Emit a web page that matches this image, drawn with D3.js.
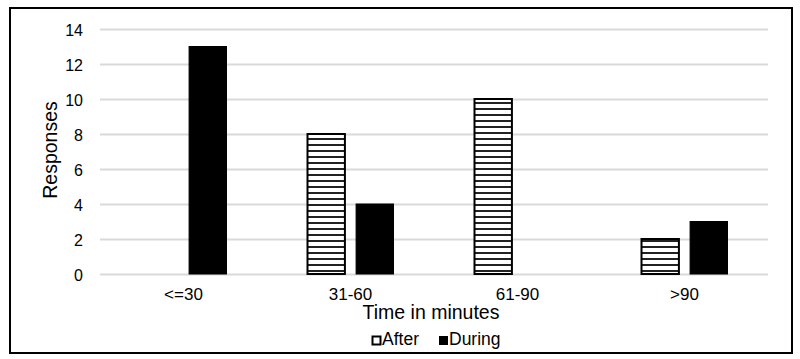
<!DOCTYPE html>
<html>
<head>
<meta charset="utf-8">
<script src="https://cdn.jsdelivr.net/npm/d3@7"></script>
<style>
  body { margin: 0; background: #fff; }
  svg { font-family: "Liberation Sans", Arial, sans-serif; }
</style>
</head>
<body>
<div id="chart"></div>
<script>
var categories = ["<=30", "31-60", "61-90", ">90"];
var seriesNames = ["After", "During"];
var afterValues = [0, 8, 10, 2];
var duringValues = [13, 4, 0, 3];
var yTicks = [0, 2, 4, 6, 8, 10, 12, 14];

var width = 800,
    height = 359;

var margin = { left: 100, right: 32, top: 29, bottom: 85 };

var svg = d3.select("#chart")
    .append("svg")
    .attr("width", width)
    .attr("height", height);

// stripe pattern for "After"
var defs = svg.append("defs");
var pat = defs.append("pattern")
    .attr("id", "stripes")
    .attr("patternUnits", "userSpaceOnUse")
    .attr("width", 6)
    .attr("height", 6);
pat.append("rect").attr("width", 6).attr("height", 6).attr("fill", "#fff");
pat.append("rect").attr("y", 0).attr("width", 6).attr("height", 2).attr("fill", "#222");

// outer frame
svg.append("rect")
    .attr("x", 10).attr("y", 8)
    .attr("width", 782).attr("height", 345)
    .attr("fill", "none")
    .attr("stroke", "#000")
    .attr("stroke-width", 2);

var xScale = d3.scaleBand()
    .domain(categories)
    .range([margin.left, width - margin.right]);

var xInner = d3.scaleBand()
    .domain(seriesNames)
    .range([-43, 43])
    .paddingInner(0.23);

var yScale = d3.scaleLinear()
    .domain([0, 14])
    .range([height - margin.bottom, margin.top]);

// gridlines
svg.append("g")
    .selectAll("line")
    .data(yTicks)
    .enter().append("line")
    .attr("x1", margin.left)
    .attr("x2", width - margin.right)
    .attr("y1", function (d) { return yScale(d) + 0.5; })
    .attr("y2", function (d) { return yScale(d) + 0.5; })
    .attr("stroke", "#d9d9d9")
    .attr("stroke-width", 2);

// y tick labels
svg.append("g")
    .selectAll("text")
    .data(yTicks)
    .enter().append("text")
    .attr("x", 83)
    .attr("y", function (d) { return yScale(d) + 1.5; })
    .attr("dy", "0.35em")
    .attr("text-anchor", "end")
    .attr("font-size", 16)
    .attr("fill", "#000")
    .text(function (d) { return d; });

// bars
var series = [
    { name: "After", values: afterValues },
    { name: "During", values: duringValues }
];

series.forEach(function (s) {
    svg.append("g")
        .selectAll("rect")
        .data(s.values.map(function (v, i) { return { cat: categories[i], v: v }; })
            .filter(function (d) { return d.v > 0; }))
        .enter().append("rect")
        .attr("x", function (d) { return xScale(d.cat) + xScale.bandwidth() / 2 + xInner(s.name); })
        .attr("y", function (d) { return yScale(d.v); })
        .attr("width", xInner.bandwidth())
        .attr("height", function (d) { return yScale(0) - yScale(d.v); })
        .attr("fill", s.name === "After" ? "url(#stripes)" : "#000")
        .attr("stroke", "#000")
        .attr("stroke-width", s.name === "After" ? 2 : 1);
});

// x labels
svg.append("g")
    .selectAll("text")
    .data(categories)
    .enter().append("text")
    .attr("x", function (d) { return xScale(d) + xScale.bandwidth() / 2; })
    .attr("y", 300)
    .attr("text-anchor", "middle")
    .attr("font-size", 17)
    .text(function (d) { return d; });

// axis titles
svg.append("text")
    .attr("x", 431)
    .attr("y", 319)
    .attr("text-anchor", "middle")
    .attr("font-size", 19.5)
    .text("Time in minutes");

svg.append("text")
    .attr("transform", "translate(57," + 150 + ") rotate(-90)")
    .attr("text-anchor", "middle")
    .attr("font-size", 19.5)
    .text("Responses");

// legend
var legendX = [372, 439];
var legend = svg.append("g")
    .selectAll("g")
    .data(series)
    .enter().append("g")
    .attr("transform", function (d, i) { return "translate(" + legendX[i] + ",336)"; });

legend.append("rect")
    .attr("x", 0.5).attr("y", 0.5)
    .attr("width", 8).attr("height", 8)
    .attr("fill", function (d) { return d.name === "After" ? "#fff" : "#000"; })
    .attr("stroke", "#000")
    .attr("stroke-width", function (d) { return d.name === "After" ? 2 : 1; });

legend.append("text")
    .attr("x", 10)
    .attr("y", 9)
    .attr("font-size", 17.5)
    .text(function (d) { return d.name; });
</script>
</body>
</html>
